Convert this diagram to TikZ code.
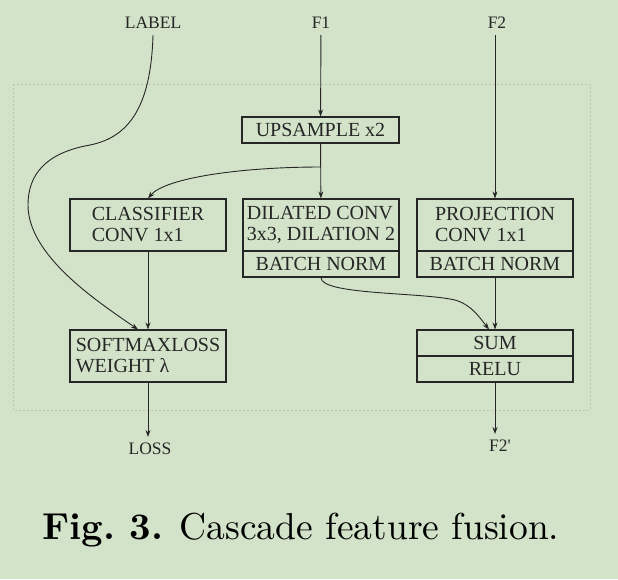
\documentclass[tikz,border=0pt]{standalone}
\usepackage{fontspec}
\newfontfamily\diagfont{Liberation Serif}
\newfontfamily\capfont{lmroman10-regular.otf}[BoldFont=lmroman10-bold.otf]
\usetikzlibrary{arrows.meta}
\definecolor{bggreen}{RGB}{211,227,201}
\definecolor{framegray}{RGB}{186,198,180}
\definecolor{inkgray}{RGB}{38,38,38}
\tikzset{
	blockbox/.style={draw=inkgray, line width=1.1pt, minimum width=156pt, inner sep=0pt, text=inkgray, font=\diagfont\fontsize{20}{21}\selectfont},
	tallbox/.style={blockbox, minimum height=52pt, align=left},
	flatbox/.style={blockbox, minimum height=26pt},
	iolabel/.style={inner sep=6pt, text=inkgray, font=\diagfont\fontsize{17.5}{18}\selectfont},
	flow/.style={draw=inkgray, line width=0.9pt, -{Stealth[length=7pt,width=5pt]}},
}
\begin{document}
\begin{tikzpicture}[x=1pt,y=-1pt]
			%%%%% START %%%%%
			
			\fill[bggreen] (0,0) rectangle (618,579);
			\draw[framegray, line width=0.6pt, dash pattern=on 2pt off 2pt] (13,84) rectangle (590,410);
			
			% inputs and outputs
			\node[iolabel] (label) at (153,23) {LABEL};
			\node[iolabel] (f1) at (321,23) {F1};
			\node[iolabel] (f2) at (497,23) {F2};
			\node[iolabel] (loss) at (150,449) {LOSS};
			\node[iolabel] (f2out) at (500,446) {F2'};
			
			% blocks
			\node[flatbox, minimum width=157pt] (up) at (320.5,130) {UPSAMPLE x2};
			\node[tallbox] (cls) at (148,225) {CLASSIFIER\\CONV 1x1};
			\node[tallbox] (dil) at (321,225) {DILATED CONV\\3x3, DILATION 2};
			\node[flatbox] (dilbn) at (321,264) {BATCH NORM};
			\node[tallbox] (proj) at (495,225) {PROJECTION\\CONV 1x1};
			\node[flatbox] (projbn) at (495,264) {BATCH NORM};
			\node[tallbox] (soft) at (148,356) {SOFTMAXLOSS\\WEIGHT λ};
			\node[flatbox] (sum) at (495,343) {SUM};
			\node[flatbox] (relu) at (495,369) {RELU};
			
			\coordinate (split) at (321,167);
			
			% connectors
			\draw[flow] (f1) -- (up);
			\draw[flow] (up) -- (dil);
			\draw[flow] (split) .. controls (240,167) and (165,178) .. (cls.north);
			\draw[flow] (f2.south -| proj.north) -- (proj.north);
			\draw[flow] (label.south) .. controls (151,105) and (130,137) .. (90,145) .. controls (45,153) and (28,175) .. (28,205) .. controls (28,255) and (95,300) .. ([xshift=-10pt]soft.north);
			\draw[flow] (cls) -- (soft);
			\draw[flow] (dilbn.south) .. controls (321,295) and (420,292) .. (455,300) .. controls (472,305) and (480,318) .. ([xshift=-6pt]sum.north);
			\draw[flow] (projbn) -- (sum);
			\draw[flow] (soft.south) -- (soft.south |- loss.north);
			\draw[flow] (relu.south) -- (relu.south |- f2out.north);
			
			% caption
			\node[font=\capfont\fontsize{37.5}{40}\selectfont] (caption) at (301,530) {\textbf{Fig.\ 3.} Cascade feature fusion.};
			
			%%%%% END %%%%%
\end{tikzpicture}
\end{document}
